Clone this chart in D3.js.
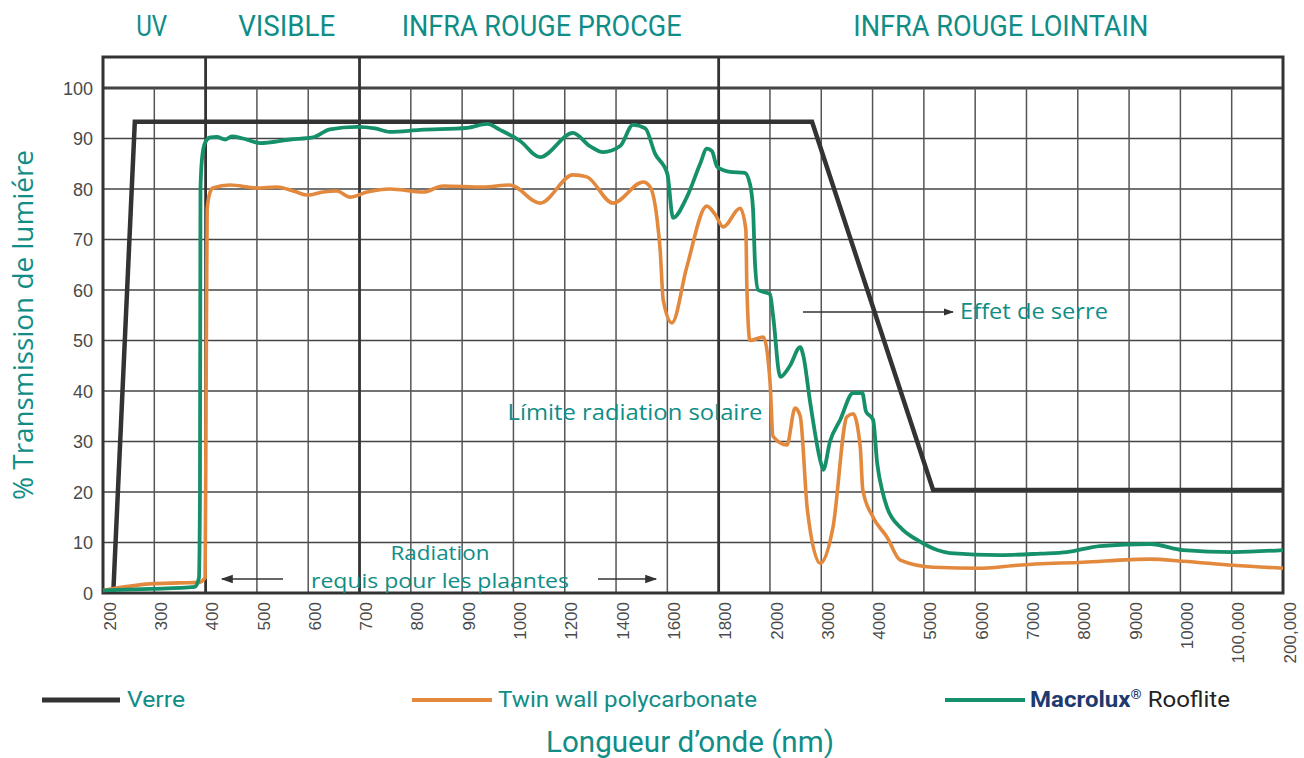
<!DOCTYPE html>
<html><head><meta charset="utf-8">
<script src="https://cdn.jsdelivr.net/npm/d3@7"></script>
<style>html,body{margin:0;padding:0;background:#fff;}svg{display:block;}</style>
</head><body>
<svg id="chart" width="1304" height="758"></svg>
<script>
// ---- DATA ----
const xLabels = ["200","300","400","500","600","700","800","900","1000","1200","1400","1600","1800","2000","3000","4000","5000","6000","7000","8000","9000","10000","100,000","200,000"];
const yTicks = [0,10,20,30,40,50,60,70,80,90,100];
const boldIdx = [2,5,12]; // 400, 700, 1800 region boundaries
const regions = ["UV","VISIBLE","INFRA ROUGE PROCGE","INFRA ROUGE LOINTAIN"];
const regionCenters = [0.95, 3.58, 8.55, 17.5];
const regionWidths = [31, 97, 280, 295];
// positions expressed on the category index axis (0 = 200 nm ... 23 = 200,000 nm)
const verre = [[0.2,0],[0.62,93.3],[13.82,93.3],[16.18,20.4],[23,20.4]];
const twinwall = [[0,0.5],[0.92,1.8],[1.5,2],[1.87,2.1],[1.99,3],[2.01,40],[2.03,76],[2.09,79.5],[2.14,80.2],[2.48,80.8],[3.0,80.2],[3.39,80.4],[3.74,79.5],[3.98,78.8],[4.29,79.4],[4.56,79.6],[4.81,78.4],[5.15,79.4],[5.59,80],[6.24,79.4],[6.63,80.6],[7.41,80.4],[7.93,80.8],[8.52,77.2],[9.16,82.8],[9.43,82.4],[9.94,77.2],[10.53,81.4],[10.66,80.5],[10.80,74],[10.86,67.9],[10.92,58],[11.09,53.5],[11.38,64.6],[11.77,76.6],[11.93,75],[12.09,72.5],[12.42,76.2],[12.53,72],[12.55,60.6],[12.61,50],[12.87,50.7],[13.0,42],[13.06,31],[13.33,29.3],[13.49,36.6],[13.59,35],[13.73,16.4],[13.98,5.9],[14.23,13.1],[14.50,34.9],[14.62,35.5],[14.76,28.9],[14.81,20.4],[15.01,15],[15.28,11.1],[15.54,6.5],[16.18,5.1],[17.15,4.9],[17.82,5.5],[19.10,6.1],[20.41,6.7],[21.05,6.3],[22.03,5.5],[23,4.9]];
const macrolux = [[0,0.5],[0.92,0.8],[1.79,1.2],[1.87,3],[1.89,20],[1.90,80],[1.93,86],[1.99,89.2],[2.09,90.2],[2.22,90.3],[2.38,89.8],[2.51,90.4],[2.73,90],[3.06,89.1],[3.65,89.8],[4.09,90.2],[4.42,91.8],[4.95,92.3],[5.30,92],[5.59,91.3],[6.18,91.7],[7.10,92.1],[7.49,92.9],[7.74,91.7],[8.13,89.5],[8.52,86.3],[9.16,91.1],[9.49,88.5],[9.75,87.3],[10.08,88.5],[10.33,92.7],[10.57,92],[10.76,87],[11.0,83],[11.11,74.3],[11.38,78.4],[11.64,85],[11.77,88],[11.87,87.5],[11.97,84.4],[12.22,83.4],[12.51,83.2],[12.61,81],[12.67,76],[12.71,65],[12.77,60],[13.0,59.2],[13.06,55],[13.20,42.8],[13.39,45],[13.59,48.7],[13.65,47],[13.78,38],[13.98,26.3],[14.04,24.4],[14.17,30],[14.37,34.3],[14.62,39.6],[14.80,39.6],[14.87,36],[15.01,34.3],[15.09,25.7],[15.20,19.8],[15.28,17],[15.54,13],[15.87,10.5],[16.26,8.5],[16.51,7.9],[17.49,7.5],[18.27,7.8],[18.79,8.1],[19.43,9.3],[20.41,9.7],[21.05,8.5],[22.03,8.1],[23,8.5]];
const legendNames = ["Verre","Twin wall polycarbonate","Macrolux","Rooflite"];

// ---- STYLE ----
const teal = "#0f8d86", colVerre = "#333333", colTwin = "#e2893e", colMac = "#16906a";
const svg = d3.select("#chart");
const L = 103, R = 1283, T0 = 57;
const x = d3.scaleLinear().domain([0, xLabels.length - 1]).range([L, R]);
const y = d3.scaleLinear().domain([0, 100]).range([593, 88]);

// grid
const g = svg.append("g");
g.selectAll("line.h").data(yTicks).join("line")
  .attr("x1", L).attr("x2", R).attr("y1", d => y(d)).attr("y2", d => y(d))
  .attr("stroke", "#444").attr("stroke-width", d => d === 100 ? 3 : 1.6);
g.selectAll("line.v").data(d3.range(1, xLabels.length - 1)).join("line")
  .attr("x1", d => x(d)).attr("x2", d => x(d))
  .attr("y1", d => boldIdx.includes(d) ? T0 : y(100)).attr("y2", y(0))
  .attr("stroke", d => boldIdx.includes(d) ? "#333" : "#555")
  .attr("stroke-width", d => boldIdx.includes(d) ? 2.8 : 1.5);
g.append("rect").attr("x", L).attr("y", T0).attr("width", R - L).attr("height", y(0) - T0)
  .attr("fill", "none").attr("stroke", "#333").attr("stroke-width", 3);

// axes
const yAxis = svg.append("g").attr("transform", `translate(${L - 10},0)`)
  .call(d3.axisLeft(y).tickValues(yTicks).tickSize(0).tickPadding(0));
yAxis.select(".domain").remove();
yAxis.selectAll("text").attr("font-family", "Liberation Sans, Arial, sans-serif")
  .attr("font-size", 18).attr("fill", "#4a4a4a").attr("dy", "0.35em");

const xAxis = svg.append("g").attr("transform", `translate(0,${y(0)})`)
  .call(d3.axisBottom(x).tickValues(d3.range(xLabels.length)).tickFormat(i => xLabels[i]).tickSize(0));
xAxis.select(".domain").remove();
xAxis.selectAll("text").attr("font-family", "Liberation Sans, Arial, sans-serif")
  .attr("font-size", 17).attr("fill", "#4a4a4a")
  .attr("transform", "rotate(-90)").attr("text-anchor", "end")
  .attr("x", -9).attr("y", 6).attr("dy", "0.36em").attr("dx", 0);

// series
const lineFn = d3.line().x(d => x(d[0])).y(d => y(d[1])).curve(d3.curveMonotoneX);
svg.append("path").datum(verre).attr("d", d3.line().x(d => x(d[0])).y(d => y(d[1])))
  .attr("fill", "none").attr("stroke", colVerre).attr("stroke-width", 4.5).attr("stroke-linejoin", "miter");
svg.append("path").datum(twinwall).attr("d", lineFn)
  .attr("fill", "none").attr("stroke", colTwin).attr("stroke-width", 3.6).attr("stroke-linejoin", "round");
svg.append("path").datum(macrolux).attr("d", lineFn)
  .attr("fill", "none").attr("stroke", colMac).attr("stroke-width", 3.8).attr("stroke-linejoin", "round");

// region headers
svg.selectAll("text.reg").data(regions).join("text")
  .attr("x", (d, i) => x(regionCenters[i])).attr("y", 36).attr("text-anchor", "middle")
  .attr("font-family", "Roboto, sans-serif").attr("font-size", 29).attr("fill", teal)
  .attr("textLength", (d, i) => regionWidths[i]).attr("lengthAdjust", "spacingAndGlyphs")
  .text(d => d);

// y title
svg.append("text").attr("transform", "translate(33,325) rotate(-90)").attr("text-anchor", "middle")
  .attr("font-family", "Open Sans, sans-serif").attr("font-size", 27).attr("fill", teal)
  .attr("textLength", 350).attr("lengthAdjust", "spacingAndGlyphs")
  .text("% Transmission de lumiére");

// arrow marker
const defs = svg.append("defs");
defs.append("marker").attr("id", "ah").attr("viewBox", "0 0 10 10").attr("refX", 9).attr("refY", 5)
  .attr("markerWidth", 10).attr("markerHeight", 10).attr("markerUnits", "userSpaceOnUse").attr("orient", "auto")
  .append("path").attr("d", "M0,1.5 L10,5 L0,8.5 Z").attr("fill", "#333");
defs.append("marker").attr("id", "ah2").attr("viewBox", "0 0 10 10").attr("refX", 9).attr("refY", 5)
  .attr("markerWidth", 14).attr("markerHeight", 12).attr("markerUnits", "userSpaceOnUse").attr("orient", "auto")
  .append("path").attr("d", "M0,1.5 L10,5 L0,8.5 Z").attr("fill", "#333");

const arrow = (x1, y1, x2, y2, m) => svg.append("line").attr("x1", x1).attr("y1", y1).attr("x2", x2).attr("y2", y2)
  .attr("stroke", "#333").attr("stroke-width", 1.4).attr("marker-end", `url(#${m})`);
arrow(803, 312, 953, 312, "ah");
arrow(283, 579, 222, 579, "ah2");
arrow(598, 579, 656, 579, "ah2");

const note = (tx, xx, yy, fs, w, anchor) => svg.append("text").attr("x", xx).attr("y", yy)
  .attr("text-anchor", anchor || "start").attr("font-family", "Open Sans, sans-serif")
  .attr("font-size", fs).attr("fill", teal)
  .attr("textLength", w).attr("lengthAdjust", "spacingAndGlyphs").text(tx);
note("Effet de serre", 960, 319, 21, 148);
note("Límite radiation solaire", 635, 420, 21, 255, "middle");
note("Radiation", 440, 560, 20, 99, "middle");
note("requis pour les plaantes", 440, 588, 20, 258, "middle");

// legend
const leg = [[42, 120, colVerre, 5], [412, 492, colTwin, 4], [945, 1025, colMac, 4]];
leg.forEach(l => svg.append("line").attr("x1", l[0]).attr("x2", l[1]).attr("y1", 700).attr("y2", 700)
  .attr("stroke", l[2]).attr("stroke-width", l[3]));
const legT = (t, xx, w, col, weight) => svg.append("text").attr("x", xx).attr("y", 707)
  .attr("font-family", "Roboto, sans-serif").attr("font-size", 22).attr("fill", col)
  .attr("font-weight", weight || 400).attr("textLength", w).attr("lengthAdjust", "spacingAndGlyphs").text(t);
legT(legendNames[0], 127, 58, teal);
legT(legendNames[1], 498, 259, teal);
const mt = svg.append("text").attr("x", 1030).attr("y", 707).attr("font-family", "Roboto, sans-serif").attr("font-size", 22)
  .attr("textLength", 200).attr("lengthAdjust", "spacingAndGlyphs");
mt.append("tspan").attr("fill", "#1d3a6e").attr("font-weight", 700).text(legendNames[2]);
mt.append("tspan").attr("fill", "#1d3a6e").attr("font-weight", 700).attr("font-size", 13).attr("dy", -8).text("®");
mt.append("tspan").attr("fill", "#222").attr("dy", 8).text(" " + legendNames[3]);

// x title
svg.append("text").attr("x", 690).attr("y", 752).attr("text-anchor", "middle")
  .attr("font-family", "Roboto, sans-serif").attr("font-size", 29).attr("fill", teal)
  .attr("textLength", 288).attr("lengthAdjust", "spacingAndGlyphs").text("Longueur d’onde (nm)");
</script>
</body></html>
